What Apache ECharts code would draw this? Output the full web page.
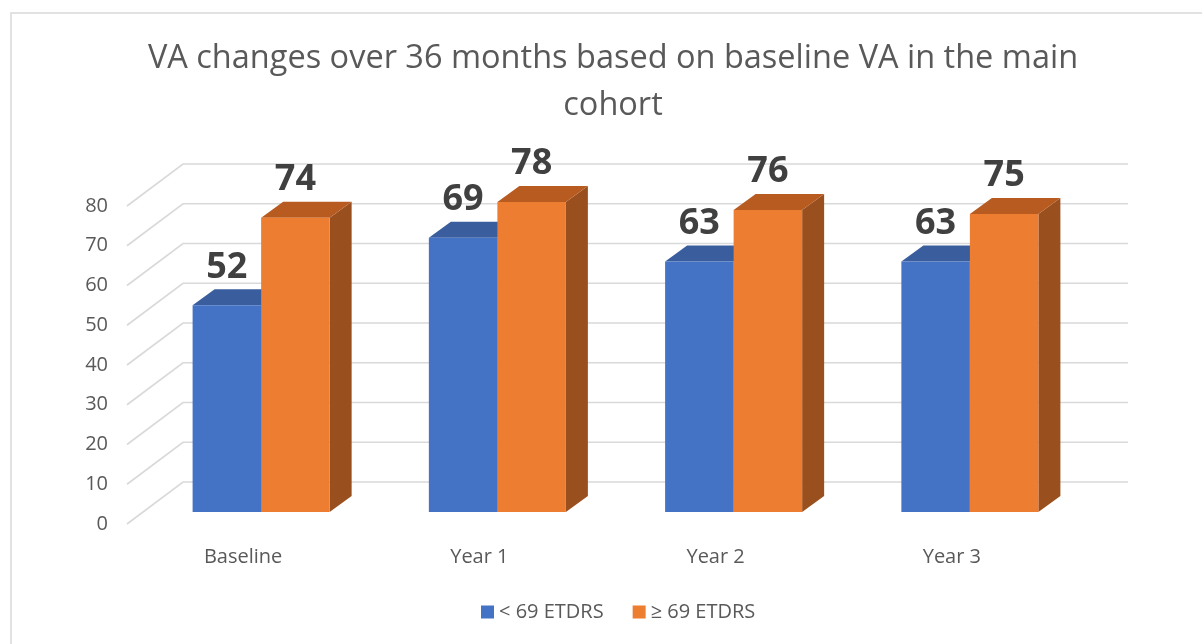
<!DOCTYPE html>
<html lang="en">
<head>
    <meta charset="UTF-8">
    <title>VA changes</title>
    <script src="https://cdn.jsdelivr.net/npm/echarts@6/dist/echarts.min.js"></script>
    <style>
        html, body { margin: 0; padding: 0; background: #fff; }
    </style>
</head>
<body>
<div id="dom" style="width: 1202px;height: 644px"></div>
<script>
    var categories = ['Baseline', 'Year 1', 'Year 2', 'Year 3'];
    var lowVA = [52, 69, 63, 63];
    var highVA = [74, 78, 76, 75];
    var seriesNames = ['< 69 ETDRS', '\u2265 69 ETDRS'];
    var yTicks = [0, 10, 20, 30, 40, 50, 60, 70, 80];

    // 3d look: bar depth offset and wall offset (pixels)
    var DEPTH = [22, -16];
    var WALL = [40, -30];
    var FRONT = [-16, 12];

    var faces = [
        {front: '#4472C4', top: '#3A5D9E', side: '#2F4F88'},
        {front: '#ED7D31', top: '#B85B20', side: '#9A501E'}
    ];

    function barRender(idx) {
        return function (params, api) {
            var cat = api.value(0);
            var val = api.value(1);
            var base = api.coord([cat, 0]);
            var top = api.coord([cat, val]);
            var bw = api.size([1, 0])[0] * 0.29;
            var x0 = idx === 0 ? base[0] - bw : base[0];
            var x1 = x0 + bw;
            var y0 = base[1];
            var y1 = top[1];
            var c = faces[idx];
            return {
                type: 'group',
                children: [
                    {type: 'polygon', shape: {points: [[x1, y1], [x1 + DEPTH[0], y1 + DEPTH[1]], [x1 + DEPTH[0], y0 + DEPTH[1]], [x1, y0]]},
                        style: {fill: c.side}},
                    {type: 'polygon', shape: {points: [[x0, y1], [x1, y1], [x1 + DEPTH[0], y1 + DEPTH[1]], [x0 + DEPTH[0], y1 + DEPTH[1]]]},
                        style: {fill: c.top}},
                    {type: 'rect', shape: {x: x0, y: y1, width: bw, height: y0 - y1},
                        style: {fill: c.front}},
                    {type: 'text', style: {text: String(val), x: (x0 + x1) / 2, y: y1 - 20,
                        align: 'center', verticalAlign: 'bottom',
                        font: 'bold 36px "Open Sans"', fill: '#404040'}}
                ]
            };
        };
    }

    // gridlines on the back wall + front diagonal, with the tick label at the front end
    function wallRender(params, api) {
        var cs = params.coordSys;
        var v = api.value(0);
        var y = api.coord([0, v])[1];
        var x = cs.x;
        return {
            type: 'group',
            children: [
                {type: 'polyline',
                    shape: {points: [[x + FRONT[0], y + FRONT[1]], [x + WALL[0], y + WALL[1]], [x + cs.width + WALL[0], y + WALL[1]]]},
                    style: {stroke: '#D9D9D9', lineWidth: 1.6, fill: null}},
                {type: 'text', style: {text: String(v), x: x - 35, y: y + 12, align: 'right', verticalAlign: 'middle',
                    font: '20px "Open Sans"', fill: '#595959'}}
            ]
        };
    }

    var dom = document.getElementById("dom");
    var myCharts = echarts.init(dom);
    var option = {
        backgroundColor: '#fff',
        animation: false,
        color: ['#4472C4', '#ED7D31'],
        title: {
            text: 'VA changes over 36 months based on baseline VA in the main\ncohort',
            left: 608,
            top: 30,
            textAlign: 'center',
            textStyle: {fontFamily: 'Open Sans', fontSize: 32.5, fontWeight: 'normal', color: '#595959', lineHeight: 47}
        },
        graphic: [
            {type: 'rect', shape: {x: 11, y: 13, width: 1250, height: 700}, style: {fill: null, stroke: '#D9D9D9', lineWidth: 1.5}, silent: true}
        ],
        legend: {
            bottom: 17,
            left: 476,
            itemWidth: 13,
            itemHeight: 13,
            itemGap: 29,
            itemTextGap: 6,
            icon: 'rect',
            data: seriesNames,
            textStyle: {fontFamily: 'Open Sans', fontSize: 20, color: '#595959'}
        },
        grid: {left: 143, right: 114, top: 194, bottom: 132},
        xAxis: {
            type: 'category',
            data: categories,
            axisLine: {show: false},
            axisTick: {show: false},
            axisLabel: {margin: 35, padding: [0, 36, 0, 0], fontFamily: 'Open Sans', fontSize: 20, color: '#595959'}
        },
        yAxis: {
            type: 'value',
            min: 0,
            max: 80,
            interval: 10,
            splitLine: {show: false},
            axisLine: {show: false},
            axisTick: {show: false},
            axisLabel: {show: false}
        },
        series: [
            {
                type: 'custom',
                name: 'wall',
                silent: true,
                z: 1,
                renderItem: wallRender,
                encode: {y: 0},
                data: yTicks.map(function (v) { return [v]; })
            },
            {
                type: 'custom',
                name: seriesNames[0],
                z: 2,
                itemStyle: {color: '#4472C4'},
                renderItem: barRender(0),
                encode: {x: 0, y: 1},
                data: lowVA.map(function (v, i) { return [i, v]; })
            },
            {
                type: 'custom',
                name: seriesNames[1],
                z: 3,
                itemStyle: {color: '#ED7D31'},
                renderItem: barRender(1),
                encode: {x: 0, y: 1},
                data: highVA.map(function (v, i) { return [i, v]; })
            }
        ]
    };
    myCharts.setOption(option);
</script>
</body>
</html>
